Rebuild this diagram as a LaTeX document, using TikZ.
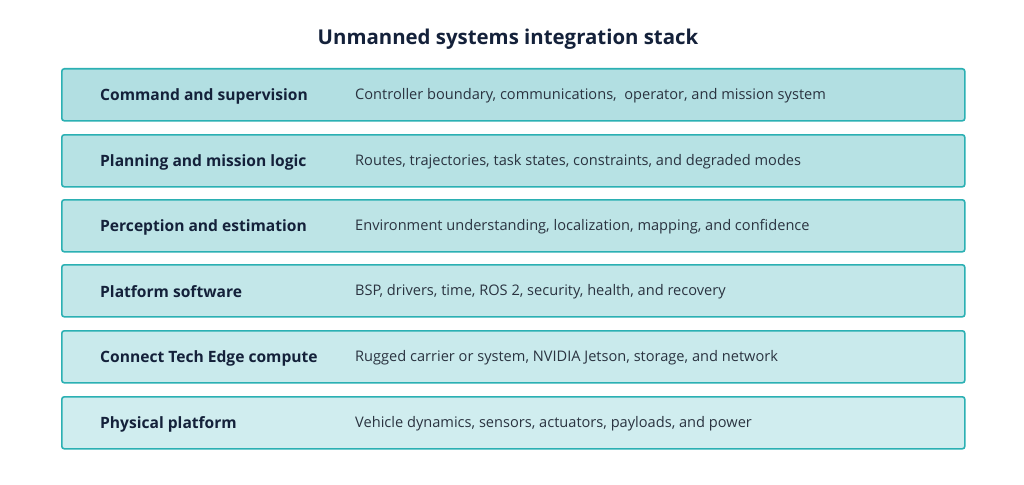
\documentclass[tikz,border=0pt]{standalone}
\usepackage{fontspec}
\setmainfont{Open Sans}
\definecolor{bd}{HTML}{2BB0B3}
\definecolor{txt}{HTML}{14213A}
\definecolor{dsc}{HTML}{2A3340}
\begin{document}
\begin{tikzpicture}[x=1pt,y=-1pt,
  row/.style={draw=bd,line width=1.6pt,rounded corners=2.5pt,minimum width=903pt,minimum height=52pt,anchor=north west,inner sep=0pt},
  lab/.style={anchor=west,font=\fontsize{15.6}{18}\selectfont\bfseries,text=txt,inner sep=0pt},
  desc/.style={anchor=west,font=\fontsize{14.6}{18}\selectfont,text=dsc,inner sep=0pt}]
\useasboundingbox (0,0) rectangle (1024,484);
\fill[white] (0,0) rectangle (1024,484);
\node[font=\fontsize{20.4}{24}\selectfont\bfseries,text=txt] (title) at (508,39) {Unmanned systems integration stack};
\foreach \i/\y/\c/\a/\b in {
 1/68/B2DFE2/Command and supervision/{Controller boundary, communications,\ \ operator, and mission system},
 2/134/B7E2E4/Planning and mission logic/{Routes, trajectories, task states, constraints, and degraded modes},
 3/199/BDE4E6/Perception and estimation/{Environment understanding, localization, mapping, and confidence},
 4/264/C3E7E9/Platform software/{BSP, drivers, time, ROS 2, security, health, and recovery},
 5/330/C9EAEC/Connect Tech Edge compute/{Rugged carrier or system, NVIDIA Jetson, storage, and network},
 6/396/D0EDEF/Physical platform/{Vehicle dynamics, sensors, actuators, payloads, and power}}{
 \definecolor{f\i}{HTML}{\c}
 \node[row,fill=f\i] (r\i) at (61,\y) {};
 \node[lab] (l\i) at (100,\y+28) {\a};
 \node[desc] (d\i) at (355,\y+28) {\b};
}
\end{tikzpicture}
\end{document}
